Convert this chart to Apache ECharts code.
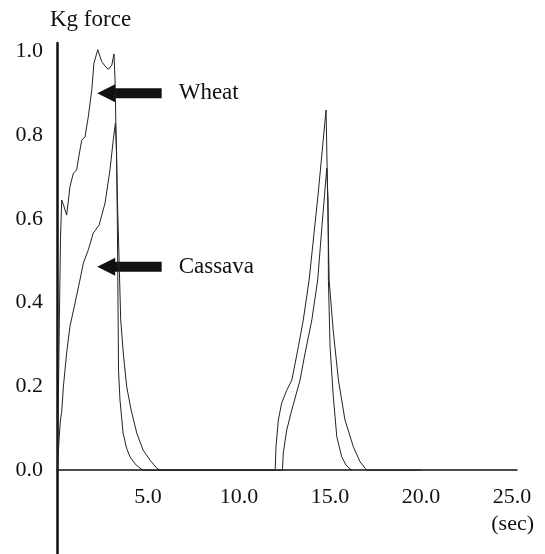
<!DOCTYPE html>
<html>
<head>
<meta charset="utf-8">
<script src="https://cdn.jsdelivr.net/npm/echarts@6/dist/echarts.min.js"></script>
<style>
  html, body { margin: 0; padding: 0; background: #fff; }
  #chart { width: 545px; height: 554px; }
</style>
</head>
<body>
<div id="chart"></div>
<script>
// force curves: [sec, kg]
const wheat = [
  [0.03, 0], [0.07, 0.151], [0.13, 0.359], [0.19, 0.55], [0.26, 0.645], [0.36, 0.633],
  [0.53, 0.609], [0.63, 0.645], [0.71, 0.677], [0.9, 0.709], [1.08, 0.717], [1.21, 0.752],
  [1.36, 0.788], [1.54, 0.796], [1.72, 0.844], [1.91, 0.908], [2.03, 0.972], [2.24, 1.004],
  [2.46, 0.975], [2.64, 0.965], [2.82, 0.957], [3.01, 0.967], [3.13, 0.994], [3.19, 0.931],
  [3.24, 0.812], [3.32, 0.645], [3.41, 0.502], [3.5, 0.359], [3.65, 0.275], [3.83, 0.199],
  [4.07, 0.144], [4.38, 0.089], [4.73, 0.048], [5.11, 0.024], [5.48, 0.005], [5.66, 0],
  [11.98, 0], [11.99, 0.005], [12.03, 0.056], [12.16, 0.12], [12.34, 0.16], [12.62, 0.191],
  [12.9, 0.215], [13.26, 0.295], [13.53, 0.359], [13.85, 0.454], [14.34, 0.657], [14.78, 0.86],
  [14.84, 0.721], [14.95, 0.454], [15.17, 0.335], [15.46, 0.215], [15.82, 0.12], [16.28, 0.056],
  [16.65, 0.02], [16.92, 0.005], [17.03, 0], [20, 0]
];
const cassava = [
  [0.03, 0], [0.11, 0.072], [0.19, 0.12], [0.26, 0.14], [0.35, 0.199], [0.53, 0.28],
  [0.71, 0.343], [0.99, 0.399], [1.26, 0.454], [1.45, 0.495], [1.72, 0.526], [1.99, 0.566],
  [2.31, 0.585], [2.64, 0.638], [2.91, 0.717], [3.09, 0.788], [3.21, 0.829], [3.27, 0.764],
  [3.32, 0.573], [3.35, 0.406], [3.38, 0.239], [3.46, 0.168], [3.63, 0.089], [3.82, 0.053],
  [4.01, 0.032], [4.29, 0.015], [4.56, 0.005], [4.73, 0],
  [12.38, 0], [12.39, 0.005], [12.43, 0.041], [12.62, 0.096], [12.9, 0.144], [13.35, 0.215],
  [13.63, 0.28], [14.0, 0.359], [14.32, 0.454], [14.56, 0.585], [14.82, 0.721],
  [14.89, 0.645], [14.91, 0.454], [15.0, 0.295], [15.18, 0.175], [15.37, 0.08], [15.64, 0.032],
  [15.88, 0.012], [16.1, 0.003], [16.21, 0]
];
// arrows: [tip sec, kg, tail sec, label]
const arrows = [
  [2.21, 0.9, 5.75, 'Wheat'],
  [2.21, 0.486, 5.75, 'Cassava']
];

const font = 'Liberation Serif';
const chart = echarts.init(document.getElementById('chart'));

chart.setOption({
  animation: false,
  grid: { left: 57, right: 28, top: 43, bottom: 0, containLabel: false, outerBoundsMode: 'none' },
  xAxis: {
    type: 'value',
    min: 0,
    max: 25.27,
    interval: 5,
    // zero line sits 84px above the grid bottom (y axis runs below 0)
    offset: -84,
    splitLine: { show: false },
    axisTick: { show: false },
    axisLine: { onZero: false, lineStyle: { color: '#111', width: 1.5 } },
    axisLabel: {
      margin: 16,
      color: '#111',
      fontFamily: font,
      fontSize: 22,
      formatter: v => (v > 0 && Math.abs(v % 5) < 1e-6) ? v.toFixed(1) : ''
    }
  },
  yAxis: {
    type: 'value',
    min: -0.2,
    max: 1.02,
    interval: 0.2,
    splitLine: { show: false },
    axisTick: { show: false },
    axisLine: { lineStyle: { color: '#111', width: 2.5 } },
    axisLabel: {
      margin: 14,
      color: '#111',
      fontFamily: font,
      fontSize: 22,
      formatter: v => (v < -1e-6 || v > 1.001) ? '' : Math.abs(v).toFixed(1)
    }
  },
  graphic: [
    { type: 'text', left: 50, top: 8, style: { text: 'Kg force', fontFamily: font, fontSize: 23, fill: '#111' } },
    { type: 'text', right: 11, top: 513, style: { text: '(sec)', fontFamily: font, fontSize: 22, fill: '#111' } }
  ],
  series: [
    {
      name: 'Wheat', type: 'line', data: wheat, showSymbol: false,
      lineStyle: { color: '#222', width: 1 }
    },
    {
      name: 'Cassava', type: 'line', data: cassava, showSymbol: false,
      lineStyle: { color: '#222', width: 1 }
    },
    {
      type: 'custom',
      data: arrows,
      encode: { x: [0, 2], y: 1 },
      renderItem: (params, api) => {
        const tip = api.coord([api.value(0), api.value(1)]);
        const tail = api.coord([api.value(2), api.value(1)]);
        const hx = tip[0] + 18, y = tip[1];
        return {
          type: 'group',
          children: [
            {
              type: 'polygon',
              shape: { points: [
                [tip[0], y], [hx, y - 9], [hx, y - 5], [tail[0], y - 5],
                [tail[0], y + 5], [hx, y + 5], [hx, y + 9]
              ] },
              style: { fill: '#111' }
            },
            {
              type: 'text',
              x: tail[0] + 17, y: y,
              style: {
                text: arrows[params.dataIndex][3], fontFamily: font, fontSize: 23,
                fill: '#111', verticalAlign: 'middle'
              }
            }
          ]
        };
      }
    }
  ]
});
</script>
</body>
</html>
